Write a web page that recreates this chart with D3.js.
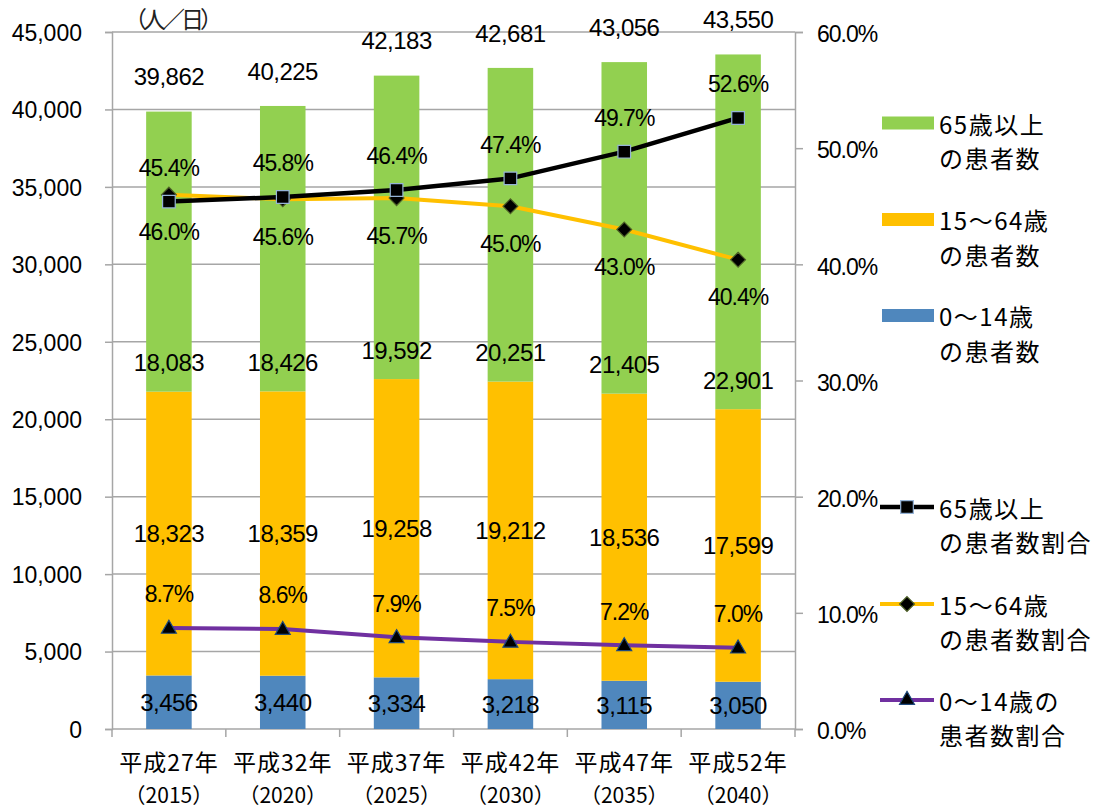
<!DOCTYPE html>
<html lang="ja">
<head>
<meta charset="utf-8">
<script src="https://cdn.jsdelivr.net/npm/d3@7"></script>
<style>
  html, body { margin: 0; padding: 0; background: #ffffff; }
  svg { display: block; }
  .num { font-family: "Liberation Sans", Arial, sans-serif; }
  .jp { font-family: "Noto Sans CJK JP", sans-serif; }
</style>
</head>
<body>
<svg id="chart" width="1105" height="809"></svg>
<script>
// Categories (fiscal years)
const categories = ["平成27年", "平成32年", "平成37年", "平成42年", "平成47年", "平成52年"];
const yearLabels = ["（2015）", "（2020）", "（2025）", "（2030）", "（2035）", "（2040）"];

// Patients per day by age group
const age0to14 = [3456, 3440, 3334, 3218, 3115, 3050];
const age15to64 = [18323, 18359, 19258, 19212, 18536, 17599];
const age65plus = [18083, 18426, 19592, 20251, 21405, 22901];
const totals = [39862, 40225, 42183, 42681, 43056, 43550];

// Share of patients by age group (%)
const share65plus = [45.4, 45.8, 46.4, 47.4, 49.7, 52.6];
const share15to64 = [46.0, 45.6, 45.7, 45.0, 43.0, 40.4];
const share0to14 = [8.7, 8.6, 7.9, 7.5, 7.2, 7.0];

// Axis ticks
const leftTicks = [0, 5000, 10000, 15000, 20000, 25000, 30000, 35000, 40000, 45000];
const rightTicks = [0, 10, 20, 30, 40, 50, 60];

const colors = {
  blue: "#4F87BD",
  orange: "#FFC000",
  green: "#92D050",
  black: "#000000",
  purple: "#7030A0",
  grid: "#A6A6A6"
};

const svg = d3.select("#chart");
const plot = { left: 112, right: 795, top: 32, bottom: 729 };

const x = d3.scaleBand()
  .domain(categories)
  .range([plot.left, plot.right])
  .paddingInner(0.6)
  .paddingOuter(0.3);

const yL = d3.scaleLinear().domain([0, 45000]).range([plot.bottom, plot.top]);
const yR = d3.scaleLinear().domain([0, 60]).range([plot.bottom, plot.top]);

const cx = c => x(c) + x.bandwidth() / 2;

// Horizontal gridlines
svg.append("g")
  .selectAll("line")
  .data(leftTicks.slice(1))
  .join("line")
  .attr("x1", plot.left).attr("x2", plot.right)
  .attr("y1", d => yL(d)).attr("y2", d => yL(d))
  .attr("stroke", colors.grid).attr("stroke-width", 1.5);

// Left axis
const gL = svg.append("g")
  .attr("transform", `translate(${plot.left},0)`)
  .call(d3.axisLeft(yL).tickValues(leftTicks).tickSize(7).tickPadding(23).tickFormat(d3.format(",")));
gL.select(".domain").attr("stroke", colors.grid).attr("stroke-width", 1.5);
gL.selectAll(".tick line").attr("stroke", colors.grid).attr("stroke-width", 1.5);
gL.selectAll(".tick text")
  .attr("class", "num")
  .attr("font-size", 23).attr("fill", "#000").attr("dy", "0.36em");

// Right axis
const gR = svg.append("g")
  .attr("transform", `translate(${plot.right},0)`)
  .call(d3.axisRight(yR).tickValues(rightTicks).tickSize(8).tickPadding(14).tickFormat(d => d3.format(".1f")(d) + "%"));
gR.select(".domain").attr("stroke", colors.grid).attr("stroke-width", 1.5);
gR.selectAll(".tick line").attr("stroke", colors.grid).attr("stroke-width", 1.5);
gR.selectAll(".tick text")
  .attr("class", "num")
  .attr("font-size", 23).attr("fill", "#000").attr("dy", "0.42em")
  .attr("letter-spacing", -1);

// Bottom axis line with ticks on category boundaries
svg.append("line")
  .attr("x1", plot.left).attr("x2", plot.right)
  .attr("y1", plot.bottom).attr("y2", plot.bottom)
  .attr("stroke", colors.grid).attr("stroke-width", 1.5);
const boundaries = d3.range(categories.length + 1).map(i => plot.left + i * x.step());
svg.append("g")
  .selectAll("line")
  .data(boundaries)
  .join("line")
  .attr("x1", d => d).attr("x2", d => d)
  .attr("y1", plot.bottom).attr("y2", plot.bottom + 8)
  .attr("stroke", colors.grid).attr("stroke-width", 1.5);

// Category labels
const catG = svg.append("g").attr("class", "jp");
catG.selectAll("text.cat")
  .data(categories)
  .join("text")
  .attr("class", "cat")
  .attr("x", d => cx(d)).attr("y", plot.bottom + 42)
  .attr("text-anchor", "middle").attr("font-size", 23).attr("letter-spacing", 1)
  .text(d => d);
catG.selectAll("text.yr")
  .data(categories)
  .join("text")
  .attr("class", "yr")
  .attr("x", d => cx(d)).attr("y", plot.bottom + 74)
  .attr("text-anchor", "middle").attr("font-size", 21)
  .text((d, i) => yearLabels[i]);

// Unit label
svg.append("text")
  .attr("class", "jp")
  .attr("x", 124).attr("y", 28)
  .attr("font-size", 23).attr("letter-spacing", -4)
  .attr("fill", "#222")
  .text("（人／日）");

// Stacked bars
const stackRows = categories.map((c, i) => ({
  cat: c, a0: age0to14[i], a15: age15to64[i], a65: age65plus[i]
}));
const stack = d3.stack().keys(["a0", "a15", "a65"])(stackRows);
const barColors = { a0: colors.blue, a15: colors.orange, a65: colors.green };

svg.append("g")
  .selectAll("g")
  .data(stack)
  .join("g")
  .attr("fill", d => barColors[d.key])
  .selectAll("rect")
  .data(d => d)
  .join("rect")
  .attr("x", d => x(d.data.cat))
  .attr("width", x.bandwidth())
  .attr("y", d => yL(d[1]))
  .attr("height", d => yL(d[0]) - yL(d[1]));

// Bar value labels
const fmt = d3.format(",");
const labG = svg.append("g").attr("class", "num").attr("font-size", 24)
  .attr("text-anchor", "middle").attr("letter-spacing", -0.5).attr("fill", "#000");

// 0-14 and 15-64: centered in segment
[stack[0], stack[1]].forEach(layer => {
  labG.append("g").selectAll("text")
    .data(layer)
    .join("text")
    .attr("x", d => cx(d.data.cat))
    .attr("y", d => (yL(d[0]) + yL(d[1])) / 2)
    .attr("dy", "0.36em")
    .text(d => fmt(d[1] - d[0]));
});
// 65+: near the base of segment
labG.append("g").selectAll("text")
  .data(stack[2])
  .join("text")
  .attr("x", d => cx(d.data.cat))
  .attr("y", d => yL(d[0]) - 29)
  .attr("dy", "0.36em")
  .text(d => fmt(d[1] - d[0]));
// Totals above bars
labG.append("g").selectAll("text")
  .data(categories)
  .join("text")
  .attr("x", d => cx(d))
  .attr("y", (d, i) => yL(totals[i]) - 35)
  .attr("dy", "0.36em")
  .text((d, i) => fmt(totals[i]));

// Share lines
const lineGen = d3.line().x(d => cx(d.cat)).y(d => yR(d.v));
const series = [
  { key: "s65", values: share65plus, color: colors.black, width: 4.5, marker: "square", markerStroke: "#95B3D7", labelDy: -34 },
  { key: "s15", values: share15to64, color: colors.orange, width: 4, marker: "diamond", markerStroke: "#4F6228", labelDy: 37.5 },
  { key: "s0", values: share0to14, color: colors.purple, width: 4, marker: "triangle", markerStroke: "#1F497D", labelDy: -34 }
];

const symbolOf = {
  square: d3.symbol().type(d3.symbolSquare).size(160),
  diamond: d3.symbol().type(d3.symbolDiamond2).size(140),
  triangle: d3.symbol().type(d3.symbolTriangle2).size(160)
};

// draw in order: purple, orange, black on top
[series[2], series[1], series[0]].forEach(s => {
  const pts = categories.map((c, i) => ({ cat: c, v: s.values[i] }));
  const g = svg.append("g");
  g.append("path")
    .datum(pts)
    .attr("d", lineGen)
    .attr("fill", "none")
    .attr("stroke", s.color)
    .attr("stroke-width", s.width)
    .attr("stroke-linejoin", "round");
  g.selectAll("path.mk")
    .data(pts)
    .join("path")
    .attr("class", "mk")
    .attr("transform", d => `translate(${cx(d.cat)},${yR(d.v) + (s.marker === "triangle" ? 1 : 0)})`)
    .attr("d", symbolOf[s.marker])
    .attr("fill", "#000")
    .attr("stroke", s.markerStroke)
    .attr("stroke-width", 1.2);
});

// Share labels
series.forEach(s => {
  svg.append("g").attr("class", "num").attr("font-size", 23)
    .attr("text-anchor", "middle").attr("letter-spacing", -1)
    .selectAll("text")
    .data(categories)
    .join("text")
    .attr("x", d => cx(d))
    .attr("y", (d, i) => yR(s.values[i]) + s.labelDy)
    .attr("dy", "0.36em")
    .text((d, i) => d3.format(".1f")(s.values[i]) + "%");
});

// Legend
const legendItems = [
  { type: "rect", color: colors.green, y: 123, lines: ["65歳以上", "の患者数"] },
  { type: "rect", color: colors.orange, y: 219.5, lines: ["15～64歳", "の患者数"] },
  { type: "rect", color: colors.blue, y: 315.5, lines: ["0～14歳", "の患者数"] },
  { type: "line", s: series[0], y: 507, lines: ["65歳以上", "の患者数割合"] },
  { type: "line", s: series[1], y: 604, lines: ["15～64歳", "の患者数割合"] },
  { type: "line", s: series[2], y: 700, lines: ["0～14歳の", "患者数割合"] }
];

const lg = svg.append("g");
legendItems.forEach(it => {
  const g = lg.append("g");
  if (it.type === "rect") {
    g.append("rect")
      .attr("x", 882).attr("y", it.y - 6.5)
      .attr("width", 52).attr("height", 13)
      .attr("fill", it.color);
  } else {
    g.append("line")
      .attr("x1", 880).attr("x2", 934)
      .attr("y1", it.y).attr("y2", it.y)
      .attr("stroke", it.s.color).attr("stroke-width", it.s.width);
    g.append("path")
      .attr("transform", `translate(907,${it.y})`)
      .attr("d", symbolOf[it.s.marker])
      .attr("fill", "#000")
      .attr("stroke", it.s.markerStroke)
      .attr("stroke-width", 1.2);
  }
  it.lines.forEach((t, k) => {
    g.append("text")
      .attr("class", "jp")
      .attr("x", 939)
      .attr("y", it.y + 2 + k * 34.5)
      .attr("dy", "0.36em")
      .attr("font-size", 24)
      .attr("letter-spacing", 1.5)
      .text(t);
  });
});
</script>
</body>
</html>
